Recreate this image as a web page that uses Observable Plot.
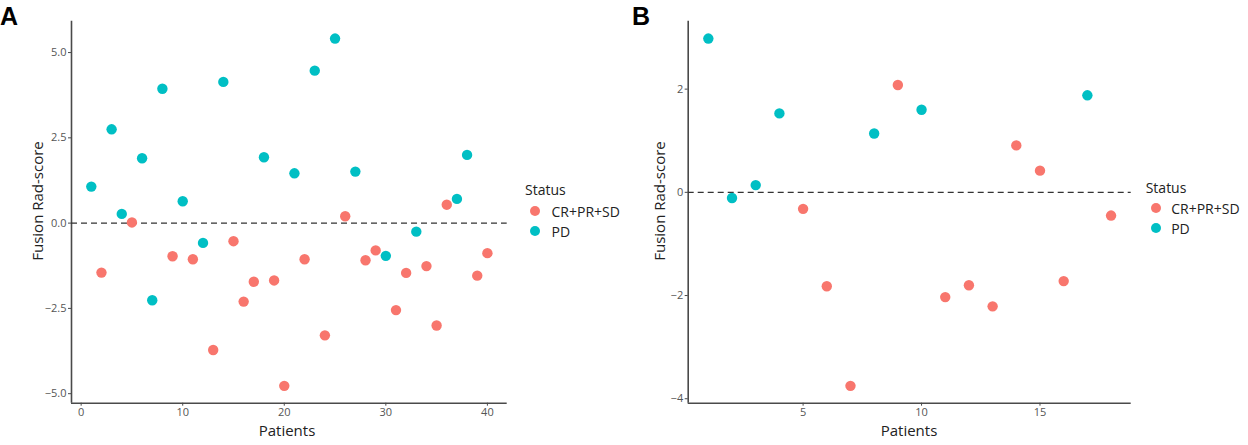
<!DOCTYPE html>
<html>
<head>
<meta charset="utf-8">
<script src="https://cdn.jsdelivr.net/npm/d3@7"></script>
<script src="https://cdn.jsdelivr.net/npm/@observablehq/plot@0.6"></script>
<style>
  html, body { margin: 0; padding: 0; background: #fff; }
  #root { position: relative; width: 1248px; height: 445px; font-family: "Open Sans", sans-serif; overflow: hidden; }
  .abs { position: absolute; white-space: nowrap; }
  .panel { font-family: "Liberation Sans", Arial, sans-serif; font-weight: bold; font-size: 25px; color: #000; line-height: 1; }
  .ytitle { font-size: 15px; color: #222; transform: translate(-50%, -50%) rotate(-90deg); }
  .xtitle { font-size: 15px; color: #222; transform: translate(-50%, -50%); }
  .leg-title { font-size: 14px; color: #222; transform: translateY(-50%); }
  .leg-label { font-size: 14px; color: #222; transform: translateY(-50%); }
  .leg-dot { width: 10px; height: 10px; border-radius: 50%; transform: translate(-50%, -50%); }
</style>
</head>
<body>
<div id="root"></div>
<script>
// ---- Data ----
const statusLevels = ["CR+PR+SD", "PD"];
const statusColors = ["#F8766D", "#00BFC4"];
const threshold = 0;

// Panel A: patients 1..40
const patientsA = [1,2,3,4,5,6,7,8,9,10,11,12,13,14,15,16,17,18,19,20,21,22,23,24,25,26,27,28,29,30,31,32,33,34,35,36,37,38,39,40];
const scoresA = [1.07,-1.45,2.75,0.27,0.02,1.90,-2.26,3.94,-0.97,0.64,-1.06,-0.58,-3.72,4.14,-0.53,-2.30,-1.72,1.93,-1.68,-4.77,1.46,-1.06,4.47,-3.29,5.41,0.20,1.51,-1.09,-0.80,-0.96,-2.55,-1.46,-0.25,-1.26,-3.00,0.54,0.71,2.00,-1.54,-0.88];
const statusA = ["PD","CR+PR+SD","PD","PD","CR+PR+SD","PD","PD","PD","CR+PR+SD","PD","CR+PR+SD","PD","CR+PR+SD","PD","CR+PR+SD","CR+PR+SD","CR+PR+SD","PD","CR+PR+SD","CR+PR+SD","PD","CR+PR+SD","PD","CR+PR+SD","PD","CR+PR+SD","PD","CR+PR+SD","CR+PR+SD","PD","CR+PR+SD","CR+PR+SD","PD","CR+PR+SD","CR+PR+SD","CR+PR+SD","PD","PD","CR+PR+SD","CR+PR+SD"];
const xTicksA = [0, 10, 20, 30, 40];
const yTicksA = [-5, -2.5, 0, 2.5, 5];

// Panel B: patients 1..18
const patientsB = [1,2,3,4,5,6,7,8,9,10,11,12,13,14,15,16,17,18];
const scoresB = [2.98,-0.11,0.14,1.53,-0.32,-1.82,-3.75,1.14,2.08,1.60,-2.03,-1.80,-2.21,0.91,0.42,-1.72,1.88,-0.45];
const statusB = ["PD","PD","PD","PD","CR+PR+SD","CR+PR+SD","CR+PR+SD","PD","CR+PR+SD","PD","CR+PR+SD","CR+PR+SD","CR+PR+SD","CR+PR+SD","CR+PR+SD","CR+PR+SD","PD","CR+PR+SD"];
const xTicksB = [5, 10, 15];
const yTicksB = [-4, -2, 0, 2];

// ---- Helpers ----
function expand(vals, f = 0.05) {
  const [a, b] = d3.extent(vals);
  const p = (b - a) * f;
  return [a - p, b + p];
}

function panel({patients, scores, status, xTicks, yTicks, yFormat, width, marginLeft, marginRight}) {
  const data = patients.map((p, i) => ({patient: p, score: scores[i], status: status[i]}));
  const xd = expand(patients);
  const yd = expand(scores);
  const axisColor = "#4a4a4a";
  return Plot.plot({
    width, height: 445,
    marginLeft, marginRight, marginTop: 20.7, marginBottom: 42.3,
    style: { fontFamily: "Open Sans, sans-serif", fontSize: "11px", color: "#555", background: "transparent" },
    x: { domain: xd },
    y: { domain: yd },
    color: { domain: statusLevels, range: statusColors },
    marks: [
      Plot.axisX({ ticks: xTicks, tickSize: 3, tickPadding: 2, label: null, stroke: axisColor, fill: "#555" }),
      Plot.axisY({ ticks: yTicks, tickSize: 3, tickPadding: 2, label: null, tickFormat: yFormat, stroke: axisColor, fill: "#555" }),
      Plot.ruleX([xd[0]], { y1: yd[0], y2: yd[1], stroke: axisColor, strokeWidth: 1.6 }),
      Plot.ruleY([yd[0]], { x1: xd[0], x2: xd[1], stroke: axisColor, strokeWidth: 1.6 }),
      Plot.ruleY([threshold], { x1: xd[0], x2: xd[1], stroke: "#333", strokeWidth: 1.3, strokeDasharray: "6,4" }),
      Plot.dot(data, { x: "patient", y: "score", fill: "status", r: 5.2, stroke: "none" })
    ]
  });
}

const root = document.getElementById("root");
function place(el, left, top) {
  el.style.position = "absolute"; el.style.left = left + "px"; el.style.top = top + "px";
  root.appendChild(el);
}
function text(cls, str, left, top) {
  const d = document.createElement("div");
  d.className = "abs " + cls; d.textContent = str;
  d.style.left = left + "px"; d.style.top = top + "px";
  root.appendChild(d); return d;
}
function legend(x, yTitle, yFirst, step, dx) {
  text("leg-title", "Status", x, yTitle);
  statusLevels.forEach((s, i) => {
    const dot = document.createElement("div");
    dot.className = "abs leg-dot";
    dot.style.background = statusColors[i];
    dot.style.left = (x + 10) + "px"; dot.style.top = (yFirst + i * step) + "px";
    root.appendChild(dot);
    text("leg-label", s, x + 10 + dx, yFirst + i * step);
  });
}

// Panel A
const a = panel({patients: patientsA, scores: scoresA, status: statusA, xTicks: xTicksA, yTicks: yTicksA,
  yFormat: d3.format(".1f"), width: 510, marginLeft: 71, marginRight: 3.3});
place(a, 0, 0);
text("panel", "A", 0, 4);
text("ytitle", "Fusion Rad-score", 37, 201);
text("xtitle", "Patients", 287, 430);
legend(525, 189, 211, 20, 16.5);

// Panel B
const b = panel({patients: patientsB, scores: scoresB, status: statusB, xTicks: xTicksB, yTicks: yTicksB,
  yFormat: d3.format("d"), width: 535, marginLeft: 87.7, marginRight: 4.3});
place(b, 600, 0);
text("panel", "B", 632, 4);
text("ytitle", "Fusion Rad-score", 659, 201);
text("xtitle", "Patients", 909, 430);
legend(1145.7, 187, 208.3, 20, 15.5);
</script>
</body>
</html>
